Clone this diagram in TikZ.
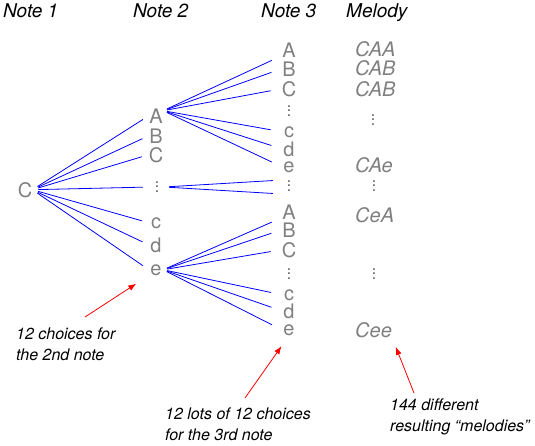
\documentclass[tikz,border=0pt]{standalone}
\usepackage{fontspec}
\setmainfont{TeX Gyre Heros}
\usetikzlibrary{arrows.meta}
\newcommand{\pDotCell}{\vbox{\baselineskip4.5pt\lineskiplimit0pt\hbox{.}\hbox{.}\hbox{.}}}

\begin{document}
\begin{tikzpicture}[x=1pt,y=-1pt,
  headCell/.style={anchor=base west, inner sep=0pt, font=\fontsize{19}{23}\selectfont\itshape},
  noteCell/.style={anchor=base, inner sep=0pt, minimum width=14pt, text=gray, font=\fontsize{20}{24}\selectfont},
  dotCell/.style={anchor=center, inner sep=0pt, minimum width=14pt, text=gray!90!black, font=\fontsize{12}{14}\selectfont\bfseries},
  melodyCell/.style={anchor=base west, inner sep=0pt, text=gray, font=\fontsize{20}{24}\selectfont\itshape},
  noteLabel/.style={anchor=north west, inner sep=0pt, align=left, font=\fontsize{16}{21}\selectfont\itshape},
  choiceLine/.style={blue, line width=0.8pt},
  pointer/.style={red, line width=0.8pt, -{Latex[length=8pt,width=6pt]}}]
\useasboundingbox (0,0) rectangle (535,445);
% column headings
\node[headCell] (hNote1) at (3,17) {Note 1};
\node[headCell] (hNote2) at (133,17) {Note 2};
\node[headCell] (hNote3) at (261,17) {Note 3};
\node[headCell] (hMelody) at (346,17) {Melody};
% note 1
\node[noteCell] (n1C) at (25,197) {C};
% note 2
\node[noteCell] (n2A) at (156,123) {A};
\node[noteCell] (n2B) at (156,143) {B};
\node[noteCell] (n2C) at (156,162) {C};
\node[dotCell] (n2v) at (157,187) {\pDotCell};
\node[noteCell] (n2c) at (156,228) {c};
\node[noteCell] (n2d) at (156,252) {d};
\node[noteCell] (n2e) at (156,275) {e};
% note 3
\node[noteCell] (n3A1) at (289,57) {A};
\node[noteCell] (n3B1) at (289,76) {B};
\node[noteCell] (n3C1) at (289,96) {C};
\node[dotCell] (n3v1) at (289,111) {\pDotCell};
\node[noteCell] (n3c1) at (289,137) {c};
\node[noteCell] (n3d1) at (289,156) {d};
\node[noteCell] (n3e1) at (289,172) {e};
\node[dotCell] (n3v2) at (289,186) {\pDotCell};
\node[noteCell] (n3A2) at (289,219) {A};
\node[noteCell] (n3B2) at (289,237) {B};
\node[noteCell] (n3C2) at (289,257) {C};
\node[dotCell] (n3v3) at (289,274) {\pDotCell};
\node[noteCell] (n3c2) at (289,300) {c};
\node[noteCell] (n3d2) at (289,318) {d};
\node[noteCell] (n3e2) at (289,335) {e};
% melodies
\node[melodyCell] (mCAA) at (355,56) {CAA};
\node[melodyCell] (mCAB1) at (355,75) {CAB};
\node[melodyCell] (mCAB2) at (355,96) {CAB};
\node[dotCell] (mv1) at (373,120) {\pDotCell};
\node[melodyCell] (mCAe) at (355,172) {CAe};
\node[dotCell] (mv2) at (374,186) {\pDotCell};
\node[melodyCell] (mCeA) at (355,222) {CeA};
\node[dotCell] (mv3) at (374,274) {\pDotCell};
\node[melodyCell] (mCee) at (355,337) {Cee};
% C to the 2nd note
\draw[choiceLine, shorten <=6pt, shorten >=7pt] (n1C.east) -- (n2A.west);
\draw[choiceLine, shorten <=6pt, shorten >=7pt] (n1C.east) -- (n2B.west);
\draw[choiceLine, shorten <=6pt, shorten >=7pt] (n1C.east) -- (n2C.west);
\draw[choiceLine, shorten <=6pt, shorten >=7pt] (n1C.east) -- (n2v.west);
\draw[choiceLine, shorten <=6pt, shorten >=7pt] (n1C.east) -- (n2c.west);
\draw[choiceLine, shorten <=6pt, shorten >=7pt] (n1C.east) -- (n2d.west);
\draw[choiceLine, shorten <=6pt, shorten >=7pt] (n1C.east) -- (n2e.west);
% A to the 3rd note
\draw[choiceLine, shorten <=4pt, shorten >=11pt] ([yshift=5pt]n2A.east) -- ([yshift=-6pt]n3A1.west);
\draw[choiceLine, shorten <=4pt, shorten >=11pt] ([yshift=5pt]n2A.east) -- (n3B1.west);
\draw[choiceLine, shorten <=4pt, shorten >=11pt] ([yshift=5pt]n2A.east) -- (n3C1.west);
\draw[choiceLine, shorten <=4pt, shorten >=11pt] ([yshift=5pt]n2A.east) -- (n3c1.west);
\draw[choiceLine, shorten <=4pt, shorten >=11pt] ([yshift=5pt]n2A.east) -- (n3d1.west);
\draw[choiceLine, shorten <=4pt, shorten >=11pt] ([yshift=5pt]n2A.east) -- (n3e1.west);
% the dots
\draw[choiceLine, shorten <=5pt, shorten >=9pt] (n2v.east) -- ([yshift=6pt]n3v2.west);
\draw[choiceLine, shorten <=5pt, shorten >=9pt] (n2v.east) -- ([yshift=-8pt]n3v2.west);
% e to the 3rd note
\draw[choiceLine, shorten <=4pt, shorten >=11pt] (n2e.east) -- ([yshift=-6pt]n3A2.west);
\draw[choiceLine, shorten <=4pt, shorten >=11pt] (n2e.east) -- (n3B2.west);
\draw[choiceLine, shorten <=4pt, shorten >=11pt] (n2e.east) -- (n3C2.west);
\draw[choiceLine, shorten <=4pt, shorten >=11pt] (n2e.east) -- (n3c2.west);
\draw[choiceLine, shorten <=4pt, shorten >=11pt] (n2e.east) -- (n3d2.west);
\draw[choiceLine, shorten <=4pt, shorten >=11pt] (n2e.east) -- (n3e2.west);
% notes and pointers
\node[noteLabel] (lSecond) at (16,328) {12 choices for\\the 2nd note};
\node[noteLabel] (lThird) at (165,408) {12 lots of 12 choices\\for the 3rd note};
\node[noteLabel] (lMelodies) at (390,399) {144 different\\resulting “melodies”};
\coordinate (tSecond) at (85,317);
\coordinate (tThird) at (245,398);
\coordinate (tMelodies) at (414,393);
\draw[pointer, shorten >=15pt] (tSecond) -- (n2e.south west);
\draw[pointer, shorten >=13pt] (tThird) -- (n3e2.south);
\draw[pointer, shorten >=10pt] (tMelodies) -- (mCee.south east);
\end{tikzpicture}
\end{document}
